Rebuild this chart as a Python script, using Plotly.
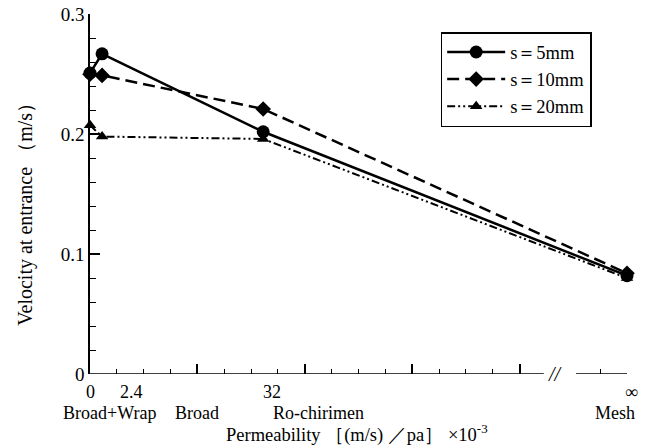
import plotly.graph_objects as go

# positions on the (piecewise) permeability axis, in axis units (one minor tick = 1)
x_pos = [0, 0.45, 6.45, 20]
s5 = [0.251, 0.267, 0.202, 0.082]
s10 = [0.250, 0.249, 0.221, 0.084]
s20 = [0.2075, 0.198, 0.196, 0.080]
series_names = ["s＝5mm", "s＝10mm", "s＝20mm"]

y_tick_vals = [0, 0.1, 0.2, 0.3]
y_tick_text = ["0", "0.1", "0.2", "0.3"]

x_num_pos = [0, 1.55, 6.78, 20.15]
x_num_text = ["0", "2.4", "32", "∞"]
cat_pos = [0.71, 3.99, 8.5, 19.55]
cat_text = ["Broad+Wrap", "Broad", "Ro-chirimen", "Mesh"]

x_major = [4, 8, 12, 16, 20]
x_minor = [1, 2, 3, 5, 6, 7, 9, 10, 11, 13, 14, 15, 19]

FONT = "Liberation Serif, Times New Roman, DejaVu Serif, serif"
X_RANGE = [0, 20]

fig = go.Figure()
fig.add_trace(go.Scatter(x=x_pos, y=s5, name=series_names[0], mode="lines+markers",
                         line=dict(color="black", width=2.5, dash="solid"),
                         marker=dict(symbol="circle", size=13, color="black"),
                         cliponaxis=False))
fig.add_trace(go.Scatter(x=x_pos, y=s10, name=series_names[1], mode="lines+markers",
                         line=dict(color="black", width=2.5, dash="12px,6px"),
                         marker=dict(symbol="diamond", size=12, color="black"),
                         cliponaxis=False))
fig.add_trace(go.Scatter(x=x_pos, y=s20, name=series_names[2], mode="lines+markers",
                         line=dict(color="black", width=2, dash="8px,3px,2px,3px,2px,3px"),
                         marker=dict(symbol="triangle-up", size=11, color="black"),
                         cliponaxis=False))

# broken x-axis line
fig.add_shape(type="line", xref="x", yref="y", x0=0, x1=16.9, y0=0, y1=0,
              line=dict(color="black", width=1.5))
fig.add_shape(type="line", xref="x", yref="y", x0=18.1, x1=20, y0=0, y1=0,
              line=dict(color="black", width=1.5))
fig.add_annotation(x=17.35, y=0, xref="x", yref="y", text="<i>//</i>", showarrow=False,
                   font=dict(family=FONT, size=20, color="black"), yshift=0)


def to_paper(v):
    return (v - X_RANGE[0]) / (X_RANGE[1] - X_RANGE[0])


for xv, t in zip(x_num_pos, x_num_text):
    fig.add_annotation(x=to_paper(xv), y=0, xref="paper", yref="y", text=t, showarrow=False,
                       xanchor="center", yshift=-18,
                       font=dict(family=FONT, size=18, color="black"))
for xv, t in zip(cat_pos, cat_text):
    fig.add_annotation(x=to_paper(xv), y=0, xref="paper", yref="y", text=t, showarrow=False,
                       xanchor="center", yshift=-39,
                       font=dict(family=FONT, size=18, color="black"))

# axis titles
fig.add_annotation(x=0.497, y=0, xref="paper", yref="y", yshift=-59, xanchor="center",
                   text="Permeability ［(m/s) ／pa］ ×10<sup>-3</sup>", showarrow=False,
                   font=dict(family=FONT, size=18.5, color="black"))
fig.add_annotation(x=-0.12, y=0.458, xref="paper", yref="paper", xanchor="center",
                   text="Velocity at entrance （m/s）", showarrow=False, textangle=-90,
                   font=dict(family=FONT, size=20, color="black"))

fig.update_layout(
    width=639, height=439,
    margin=dict(l=82, r=20, t=6, b=73, autoexpand=False),
    paper_bgcolor="white", plot_bgcolor="white",
    font=dict(family=FONT, size=17, color="black"),
    showlegend=True,
    legend=dict(x=0.653, y=0.95, xanchor="left", yanchor="top",
                bordercolor="black", borderwidth=1.5, bgcolor="white",
                font=dict(family=FONT, size=18.5, color="black"),
                itemwidth=58, tracegroupgap=3),
    xaxis=dict(range=X_RANGE, showline=False, showgrid=False, zeroline=False,
               automargin=False,
               tickmode="array", tickvals=x_major, showticklabels=False,
               ticks="inside", ticklen=10, tickwidth=1.5, tickcolor="black",
               minor=dict(tickmode="array", tickvals=x_minor, ticks="inside",
                          ticklen=5, tickwidth=1.2, tickcolor="black")),
    yaxis=dict(range=[0, 0.3002], showline=True, linecolor="black", linewidth=1.5,
               showgrid=False, zeroline=False, automargin=False,
               ticklabeloverflow="allow",
               tickmode="array", tickvals=y_tick_vals, ticktext=y_tick_text,
               ticks="inside", ticklen=10, tickwidth=1.5, tickcolor="black",
               tickfont=dict(family=FONT, size=19),
               minor=dict(ticks="inside", ticklen=6, tickwidth=1.2, tickcolor="black",
                          dtick=0.02, tick0=0)),
)

fig.write_html("out.html")
